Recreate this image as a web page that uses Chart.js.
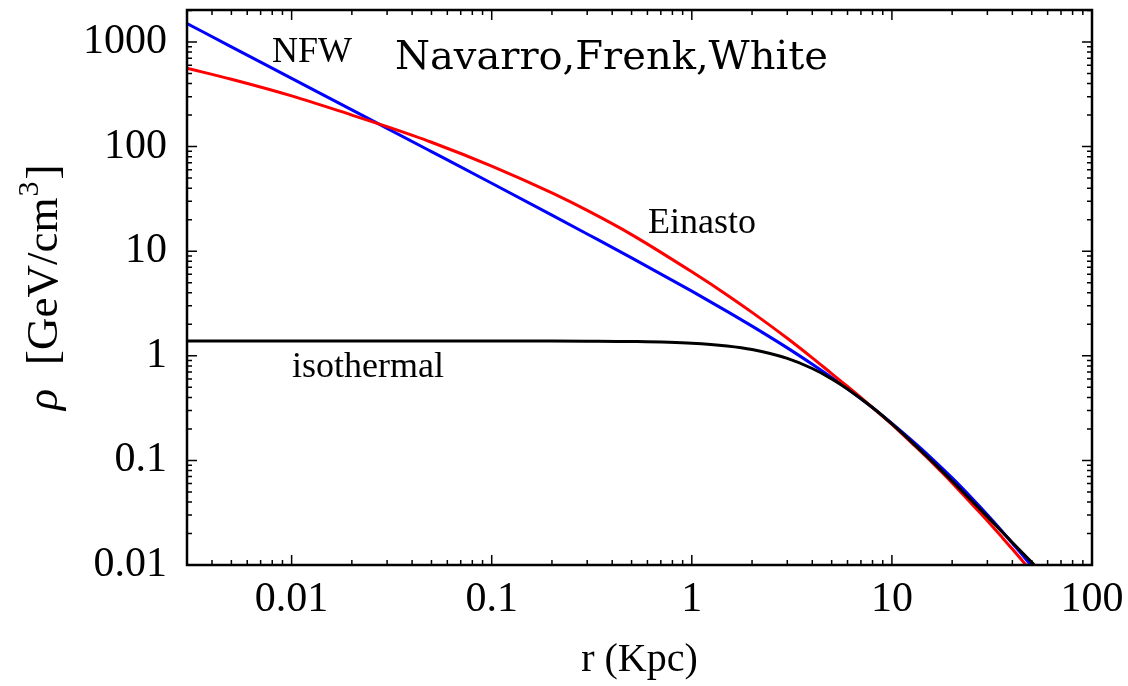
<!DOCTYPE html>
<html>
<head>
<meta charset="utf-8">
<script src="https://cdn.jsdelivr.net/npm/chart.js@4.4.1/dist/chart.umd.min.js"></script>
<style>
html, body { margin: 0; padding: 0; background: #fff; }
#wrap { width: 1128px; height: 686px; }
</style>
</head>
<body>
<div id="wrap"><canvas id="profiles" width="1128" height="686"></canvas></div>
<script>
// galactocentric radius in kpc and the three dark matter densities in GeV/cm^3
const radius = [0.003, 0.005, 0.01, 0.02, 0.03, 0.05, 0.1, 0.2, 0.3, 0.5, 1, 1.5, 2, 3, 4, 5, 6, 8, 10, 13, 16, 20, 25, 30, 35, 40, 45, 50, 55, 60];
const isothermal = [1.387, 1.387, 1.387, 1.387, 1.386, 1.386, 1.386, 1.384, 1.38, 1.369, 1.318, 1.241, 1.148, 0.944, 0.756, 0.602, 0.482, 0.32, 0.223, 0.141, 0.0967, 0.0635, 0.0413, 0.029, 0.0214, 0.0164, 0.013, 0.0106, 0.0087, 0.0073];
const einasto = [560, 440, 305, 200, 155, 110, 65, 36, 24.5, 14.4, 6.35, 3.82, 2.6, 1.47, 0.955, 0.675, 0.509, 0.32, 0.221, 0.138, 0.094, 0.061, 0.0385, 0.0265, 0.019, 0.0142, 0.0109, 0.0086, 0.0069, 0.0056];
const nfw = [1500, 898, 449, 224, 149.4, 89.5, 44.6, 22.1, 14.6, 8.63, 4.15, 2.66, 1.92, 1.19, 0.83, 0.62, 0.483, 0.319, 0.226, 0.147, 0.1025, 0.068, 0.0439, 0.0302, 0.0217, 0.0161, 0.0124, 0.0097, 0.0077, 0.0063];

const xTicks = [0.01, 0.1, 1, 10, 100];
const yTicks = [0.01, 0.1, 1, 10, 100, 1000];

const serif = '"Liberation Serif", "Times New Roman", serif';

function points(series) {
    return radius.map((r, i) => ({x: r, y: series[i]}));
}

function tickLabel(v) {
    return v >= 1 ? String(Math.round(v)) : String(v);
}

// box around the plot with inward major/minor ticks on all four sides
const frameTicks = {
    id: 'frameTicks',
    afterDatasetsDraw(chart) {
        const {ctx, chartArea: a, scales: {x, y}} = chart;
        ctx.save();
        ctx.strokeStyle = '#000';
        ctx.lineWidth = 1.5;
        ctx.beginPath();
        for (let e = -3; e <= 3; e++) {
            for (let m = 1; m <= 9; m++) {
                const v = m * Math.pow(10, e);
                const len = m === 1 ? 10 : 5;
                if (v >= x.min && v <= x.max) {
                    const px = x.getPixelForValue(v);
                    ctx.moveTo(px, a.bottom); ctx.lineTo(px, a.bottom - len);
                    ctx.moveTo(px, a.top); ctx.lineTo(px, a.top + len);
                }
                if (v >= y.min && v <= y.max) {
                    const py = y.getPixelForValue(v);
                    ctx.moveTo(a.left, py); ctx.lineTo(a.left + len, py);
                    ctx.moveTo(a.right, py); ctx.lineTo(a.right - len, py);
                }
            }
        }
        ctx.stroke();
        ctx.lineWidth = 2.5;
        ctx.strokeRect(a.left, a.top, a.right - a.left, a.bottom - a.top);
        ctx.restore();
    }
};

// curve names, header and the rotated y title with its superscript
const labels = {
    id: 'labels',
    afterDraw(chart) {
        const ctx = chart.ctx;
        ctx.save();
        ctx.fillStyle = '#000';
        ctx.textAlign = 'left';
        ctx.textBaseline = 'alphabetic';
        ctx.font = '36px ' + serif;
        ctx.fillText('NFW', 272, 62);
        ctx.fillText('Einasto', 648, 233);
        ctx.fillText('isothermal', 292, 377);
        ctx.font = '40px "DejaVu Serif", serif';
        ctx.fillText('Navarro,Frenk,White', 395, 69);

        ctx.translate(57, 410);
        ctx.rotate(-Math.PI / 2);
        let x = 0;
        ctx.font = 'italic 44px ' + serif;
        ctx.fillText('ρ', x, 0);
        x += ctx.measureText('ρ').width + 24;
        ctx.font = '45px ' + serif;
        ctx.fillText('[GeV/cm', x, 0);
        x += ctx.measureText('[GeV/cm').width;
        ctx.font = '30px ' + serif;
        ctx.fillText('3', x + 1, -19);
        x += ctx.measureText('3').width + 3;
        ctx.font = '45px ' + serif;
        ctx.fillText(']', x, 0);
        ctx.restore();
    }
};

Chart.defaults.color = '#000';

new Chart(document.getElementById('profiles'), {
    type: 'line',
    data: {
        datasets: [
            {label: 'isothermal', data: points(isothermal), borderColor: '#000000'},
            {label: 'Einasto', data: points(einasto), borderColor: '#ff0000'},
            {label: 'NFW', data: points(nfw), borderColor: '#0000ff'}
        ]
    },
    options: {
        responsive: false,
        animation: false,
        layout: {padding: {left: 0, right: 36, top: 10, bottom: 0}},
        elements: {
            line: {borderWidth: 3, cubicInterpolationMode: 'monotone'},
            point: {radius: 0}
        },
        plugins: {legend: {display: false}, tooltip: {enabled: false}},
        scales: {
            x: {
                type: 'logarithmic',
                min: 0.003,
                max: 100,
                grid: {display: false},
                border: {display: false},
                afterBuildTicks: scale => { scale.ticks = xTicks.map(v => ({value: v})); },
                afterFit: scale => { scale.height = 121; scale.paddingLeft = 0; scale.paddingRight = 0; },
                ticks: {
                    font: {family: serif, size: 42},
                    padding: 2,
                    maxRotation: 0,
                    autoSkip: false,
                    callback: v => tickLabel(v)
                },
                title: {
                    display: true,
                    text: 'r (Kpc)',
                    font: {family: serif, size: 40, lineHeight: 1},
                    padding: {top: 0, bottom: 6}
                }
            },
            y: {
                type: 'logarithmic',
                min: 0.01,
                max: 2020,
                grid: {display: false},
                border: {display: false},
                afterBuildTicks: scale => { scale.ticks = yTicks.map(v => ({value: v})); },
                afterFit: scale => { scale.width = 187; scale.paddingTop = 0; scale.paddingBottom = 0; },
                ticks: {
                    font: {family: serif, size: 42},
                    padding: 12,
                    autoSkip: false,
                    callback: v => tickLabel(v)
                }
            }
        }
    },
    plugins: [frameTicks, labels]
});
</script>
</body>
</html>
